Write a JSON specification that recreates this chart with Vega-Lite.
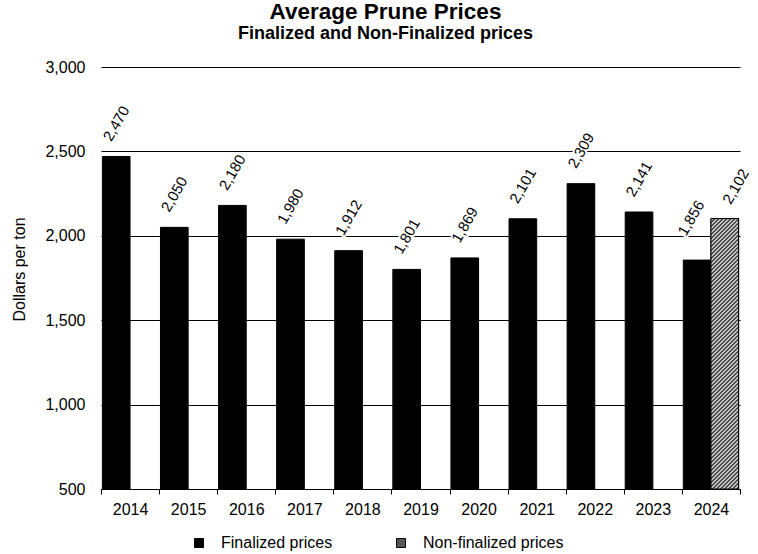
{
  "$schema": "https://vega.github.io/schema/vega-lite/v6.json",
  "width": 639,
  "height": 422,
  "autosize": {"type": "none"},
  "padding": {"left": 101, "top": 67, "right": 18, "bottom": 65},
  "background": "white",
  "config": {"font": "Liberation Sans", "view": {"stroke": null}},
  "title": {
    "text": "Average Prune Prices",
    "subtitle": "Finalized and Non-Finalized prices",
    "anchor": "middle",
    "dx": -35,
    "fontSize": 22.5,
    "fontWeight": "bold",
    "color": "#000",
    "subtitleFontSize": 18,
    "subtitleFontWeight": "bold",
    "subtitleColor": "#000",
    "subtitlePadding": 2,
    "offset": 16
  },
  "data": {
    "values": [
      {"year": "2014", "type": "Finalized prices", "price": 2470},
      {"year": "2015", "type": "Finalized prices", "price": 2050},
      {"year": "2016", "type": "Finalized prices", "price": 2180},
      {"year": "2017", "type": "Finalized prices", "price": 1980},
      {"year": "2018", "type": "Finalized prices", "price": 1912},
      {"year": "2019", "type": "Finalized prices", "price": 1801},
      {"year": "2020", "type": "Finalized prices", "price": 1869},
      {"year": "2021", "type": "Finalized prices", "price": 2101},
      {"year": "2022", "type": "Finalized prices", "price": 2309},
      {"year": "2023", "type": "Finalized prices", "price": 2141},
      {"year": "2024", "type": "Finalized prices", "price": 1856},
      {"year": "2024", "type": "Non-finalized prices", "price": 2102}
    ]
  },
  "encoding": {
    "x": {
      "field": "year",
      "type": "nominal",
      "scale": {"paddingInner": 0, "paddingOuter": 0},
      "axis": {
        "title": null,
        "labelAngle": 0,
        "tickBand": "extent",
        "labelFontSize": 16,
        "labelColor": "#000",
        "domainColor": "#000",
        "tickColor": "#000",
        "tickSize": 5,
        "labelPadding": 7,
        "grid": false
      }
    },
    "xOffset": {
      "field": "type",
      "type": "nominal",
      "scale": {"domain": ["Finalized prices", "Non-finalized prices"], "paddingOuter": 0.05, "paddingInner": 0}
    },
    "y": {
      "field": "price",
      "type": "quantitative",
      "scale": {"domain": [500, 3000], "nice": false, "zero": false},
      "axis": {
        "values": [500, 1000, 1500, 2000, 2500, 3000],
        "format": ",d",
        "grid": true,
        "gridColor": "#000",
        "gridOpacity": 1,
        "gridWidth": 1,
        "domain": false,
        "ticks": false,
        "labelFontSize": 16,
        "labelColor": "#000",
        "labelPadding": 16,
        "title": "Dollars per ton",
        "titleFontSize": 16,
        "titleFontWeight": "normal",
        "titleColor": "#000",
        "titleX": -82,
        "titleY": 202,
        "titleAngle": -90,
        "titleAlign": "center",
        "titleBaseline": "middle"
      }
    },
    "text": {"field": "price", "type": "quantitative", "format": ",d"}
  },
  "layer": [
    {
      "mark": {"type": "bar", "stroke": "#000", "strokeWidth": 1},
      "encoding": {
        "y2": {"datum": 500},
        "text": null,
        "color": {
          "field": "type",
          "type": "nominal",
          "scale": {"domain": ["Finalized prices", "Non-finalized prices"], "range": ["#000", "#555"]},
          "legend": {
            "orient": "none",
            "legendX": 90,
            "legendY": 468,
            "direction": "horizontal",
            "title": null,
            "symbolType": "square",
            "symbolSize": 81,
            "labelFontSize": 16,
            "labelColor": "#000",
            "labelOffset": 14,
            "columnPadding": 60,
            "symbolStrokeColor": "#000",
            "symbolStrokeWidth": 1,
            "padding": 0,
            "encoding": {
              "symbols": {
                "fill": {
                  "condition": {
                    "test": "datum.value === 'Non-finalized prices'",
                    "value": {
                      "gradient": "linear", "x1": 0, "y1": 0, "x2": 1, "y2": 1,
                      "stops": [
                        {"offset": 0, "color": "#111"}, {"offset": 0.111, "color": "#fff"},
                        {"offset": 0.222, "color": "#111"}, {"offset": 0.333, "color": "#fff"},
                        {"offset": 0.444, "color": "#111"}, {"offset": 0.556, "color": "#fff"},
                        {"offset": 0.667, "color": "#111"}, {"offset": 0.778, "color": "#fff"},
                        {"offset": 0.889, "color": "#111"}, {"offset": 1, "color": "#fff"}
                      ]
                    }
                  },
                  "value": "#000"
                },
                "stroke": {"value": "#000"},
                "opacity": {"value": 1}
              }
            }
          }
        }
      }
    },
    {
      "transform": [{"filter": "datum.type === 'Non-finalized prices'"}],
      "mark": {
        "type": "bar",
        "stroke": "#000",
        "strokeWidth": 1,
        "fill": {
          "gradient": "linear", "x1": 0, "y1": 0, "x2": 0.1125, "y2": 1.098,
          "stops": [
            {"offset": 0, "color": "#111"}, {"offset": 0.0067, "color": "#fff"}, {"offset": 0.0133, "color": "#111"},
            {"offset": 0.02, "color": "#fff"}, {"offset": 0.0267, "color": "#111"}, {"offset": 0.0333, "color": "#fff"},
            {"offset": 0.04, "color": "#111"}, {"offset": 0.0467, "color": "#fff"}, {"offset": 0.0533, "color": "#111"},
            {"offset": 0.06, "color": "#fff"}, {"offset": 0.0667, "color": "#111"}, {"offset": 0.0733, "color": "#fff"},
            {"offset": 0.08, "color": "#111"}, {"offset": 0.0867, "color": "#fff"}, {"offset": 0.0933, "color": "#111"},
            {"offset": 0.1, "color": "#fff"}, {"offset": 0.1067, "color": "#111"}, {"offset": 0.1133, "color": "#fff"},
            {"offset": 0.12, "color": "#111"}, {"offset": 0.1267, "color": "#fff"}, {"offset": 0.1333, "color": "#111"},
            {"offset": 0.14, "color": "#fff"}, {"offset": 0.1467, "color": "#111"}, {"offset": 0.1533, "color": "#fff"},
            {"offset": 0.16, "color": "#111"}, {"offset": 0.1667, "color": "#fff"}, {"offset": 0.1733, "color": "#111"},
            {"offset": 0.18, "color": "#fff"}, {"offset": 0.1867, "color": "#111"}, {"offset": 0.1933, "color": "#fff"},
            {"offset": 0.2, "color": "#111"}, {"offset": 0.2067, "color": "#fff"}, {"offset": 0.2133, "color": "#111"},
            {"offset": 0.22, "color": "#fff"}, {"offset": 0.2267, "color": "#111"}, {"offset": 0.2333, "color": "#fff"},
            {"offset": 0.24, "color": "#111"}, {"offset": 0.2467, "color": "#fff"}, {"offset": 0.2533, "color": "#111"},
            {"offset": 0.26, "color": "#fff"}, {"offset": 0.2667, "color": "#111"}, {"offset": 0.2733, "color": "#fff"},
            {"offset": 0.28, "color": "#111"}, {"offset": 0.2867, "color": "#fff"}, {"offset": 0.2933, "color": "#111"},
            {"offset": 0.3, "color": "#fff"}, {"offset": 0.3067, "color": "#111"}, {"offset": 0.3133, "color": "#fff"},
            {"offset": 0.32, "color": "#111"}, {"offset": 0.3267, "color": "#fff"}, {"offset": 0.3333, "color": "#111"},
            {"offset": 0.34, "color": "#fff"}, {"offset": 0.3467, "color": "#111"}, {"offset": 0.3533, "color": "#fff"},
            {"offset": 0.36, "color": "#111"}, {"offset": 0.3667, "color": "#fff"}, {"offset": 0.3733, "color": "#111"},
            {"offset": 0.38, "color": "#fff"}, {"offset": 0.3867, "color": "#111"}, {"offset": 0.3933, "color": "#fff"},
            {"offset": 0.4, "color": "#111"}, {"offset": 0.4067, "color": "#fff"}, {"offset": 0.4133, "color": "#111"},
            {"offset": 0.42, "color": "#fff"}, {"offset": 0.4267, "color": "#111"}, {"offset": 0.4333, "color": "#fff"},
            {"offset": 0.44, "color": "#111"}, {"offset": 0.4467, "color": "#fff"}, {"offset": 0.4533, "color": "#111"},
            {"offset": 0.46, "color": "#fff"}, {"offset": 0.4667, "color": "#111"}, {"offset": 0.4733, "color": "#fff"},
            {"offset": 0.48, "color": "#111"}, {"offset": 0.4867, "color": "#fff"}, {"offset": 0.4933, "color": "#111"},
            {"offset": 0.5, "color": "#fff"}, {"offset": 0.5067, "color": "#111"}, {"offset": 0.5133, "color": "#fff"},
            {"offset": 0.52, "color": "#111"}, {"offset": 0.5267, "color": "#fff"}, {"offset": 0.5333, "color": "#111"},
            {"offset": 0.54, "color": "#fff"}, {"offset": 0.5467, "color": "#111"}, {"offset": 0.5533, "color": "#fff"},
            {"offset": 0.56, "color": "#111"}, {"offset": 0.5667, "color": "#fff"}, {"offset": 0.5733, "color": "#111"},
            {"offset": 0.58, "color": "#fff"}, {"offset": 0.5867, "color": "#111"}, {"offset": 0.5933, "color": "#fff"},
            {"offset": 0.6, "color": "#111"}, {"offset": 0.6067, "color": "#fff"}, {"offset": 0.6133, "color": "#111"},
            {"offset": 0.62, "color": "#fff"}, {"offset": 0.6267, "color": "#111"}, {"offset": 0.6333, "color": "#fff"},
            {"offset": 0.64, "color": "#111"}, {"offset": 0.6467, "color": "#fff"}, {"offset": 0.6533, "color": "#111"},
            {"offset": 0.66, "color": "#fff"}, {"offset": 0.6667, "color": "#111"}, {"offset": 0.6733, "color": "#fff"},
            {"offset": 0.68, "color": "#111"}, {"offset": 0.6867, "color": "#fff"}, {"offset": 0.6933, "color": "#111"},
            {"offset": 0.7, "color": "#fff"}, {"offset": 0.7067, "color": "#111"}, {"offset": 0.7133, "color": "#fff"},
            {"offset": 0.72, "color": "#111"}, {"offset": 0.7267, "color": "#fff"}, {"offset": 0.7333, "color": "#111"},
            {"offset": 0.74, "color": "#fff"}, {"offset": 0.7467, "color": "#111"}, {"offset": 0.7533, "color": "#fff"},
            {"offset": 0.76, "color": "#111"}, {"offset": 0.7667, "color": "#fff"}, {"offset": 0.7733, "color": "#111"},
            {"offset": 0.78, "color": "#fff"}, {"offset": 0.7867, "color": "#111"}, {"offset": 0.7933, "color": "#fff"},
            {"offset": 0.8, "color": "#111"}, {"offset": 0.8067, "color": "#fff"}, {"offset": 0.8133, "color": "#111"},
            {"offset": 0.82, "color": "#fff"}, {"offset": 0.8267, "color": "#111"}, {"offset": 0.8333, "color": "#fff"},
            {"offset": 0.84, "color": "#111"}, {"offset": 0.8467, "color": "#fff"}, {"offset": 0.8533, "color": "#111"},
            {"offset": 0.86, "color": "#fff"}, {"offset": 0.8667, "color": "#111"}, {"offset": 0.8733, "color": "#fff"},
            {"offset": 0.88, "color": "#111"}, {"offset": 0.8867, "color": "#fff"}, {"offset": 0.8933, "color": "#111"},
            {"offset": 0.9, "color": "#fff"}, {"offset": 0.9067, "color": "#111"}, {"offset": 0.9133, "color": "#fff"},
            {"offset": 0.92, "color": "#111"}, {"offset": 0.9267, "color": "#fff"}, {"offset": 0.9333, "color": "#111"},
            {"offset": 0.94, "color": "#fff"}, {"offset": 0.9467, "color": "#111"}, {"offset": 0.9533, "color": "#fff"},
            {"offset": 0.96, "color": "#111"}, {"offset": 0.9667, "color": "#fff"}, {"offset": 0.9733, "color": "#111"},
            {"offset": 0.98, "color": "#fff"}, {"offset": 0.9867, "color": "#111"}, {"offset": 0.9933, "color": "#fff"},
            {"offset": 1, "color": "#111"}
          ]
        }
      },
      "encoding": {"y2": {"datum": 500}, "text": null}
    },
    {
      "transform": [{"filter": "datum.year !== '2024'"}],
      "mark": {"type": "text", "angle": -60, "align": "center", "baseline": "middle", "dx": 28.6, "dy": -16.5, "fontSize": 15, "fill": "#fff", "stroke": "#fff", "strokeWidth": 4}
    },
    {
      "transform": [{"filter": "datum.year !== '2024'"}],
      "mark": {"type": "text", "angle": -60, "align": "center", "baseline": "middle", "dx": 28.6, "dy": -16.5, "fontSize": 15, "fill": "#000"}
    },
    {
      "transform": [{"filter": "datum.year === '2024' && datum.type === 'Finalized prices'"}],
      "mark": {"type": "text", "angle": -60, "align": "center", "baseline": "middle", "dx": 33.4, "dy": -26.2, "fontSize": 15, "fill": "#fff", "stroke": "#fff", "strokeWidth": 4}
    },
    {
      "transform": [{"filter": "datum.year === '2024' && datum.type === 'Finalized prices'"}],
      "mark": {"type": "text", "angle": -60, "align": "center", "baseline": "middle", "dx": 33.4, "dy": -26.2, "fontSize": 15, "fill": "#000"}
    },
    {
      "transform": [{"filter": "datum.type === 'Non-finalized prices'"}],
      "mark": {"type": "text", "angle": -60, "align": "center", "baseline": "middle", "dx": 33.2, "dy": -6.5, "fontSize": 15, "fill": "#fff", "stroke": "#fff", "strokeWidth": 4}
    },
    {
      "transform": [{"filter": "datum.type === 'Non-finalized prices'"}],
      "mark": {"type": "text", "angle": -60, "align": "center", "baseline": "middle", "dx": 33.2, "dy": -6.5, "fontSize": 15, "fill": "#000"}
    }
  ]
}
